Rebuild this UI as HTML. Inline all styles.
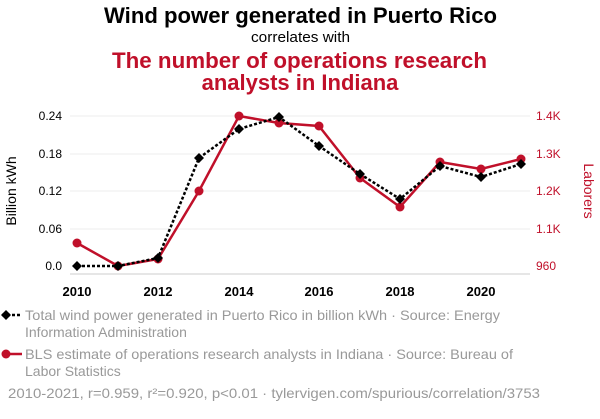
<!DOCTYPE html>
<html><head><meta charset="utf-8"><style>
body{margin:0;background:#fff;width:600px;height:414px;overflow:hidden;font-family:"Liberation Sans",sans-serif}
</style></head><body>
<svg width="600" height="414" xmlns="http://www.w3.org/2000/svg" font-family="Liberation Sans, sans-serif">
<text x="104" y="23" font-size="22" font-weight="bold" fill="#000" textLength="393" lengthAdjust="spacingAndGlyphs">Wind power generated in Puerto Rico</text>
<text x="251" y="42" font-size="15" fill="#000" textLength="99" lengthAdjust="spacingAndGlyphs">correlates with</text>
<text x="112" y="68" font-size="22" font-weight="bold" fill="#c0102a" textLength="375" lengthAdjust="spacingAndGlyphs">The number of operations research</text>
<text x="300" y="90" text-anchor="middle" font-size="22" font-weight="bold" fill="#c0102a">analysts in Indiana</text>
<g stroke="#eee" stroke-width="1">
<line x1="70" x2="530" y1="116" y2="116"/><line x1="70" x2="530" y1="154" y2="154"/><line x1="70" x2="530" y1="191" y2="191"/><line x1="70" x2="530" y1="229" y2="229"/>
</g>
<line x1="70" x2="530" y1="274" y2="274" stroke="#ccc"/>
<g font-size="12" fill="#000" text-anchor="end">
<text x="62" y="120">0.24</text><text x="62" y="158">0.18</text><text x="62" y="195">0.12</text><text x="62" y="233">0.06</text><text x="62" y="270">0.0</text>
</g>
<g font-size="12" fill="#c0102a">
<text x="536" y="120">1.4K</text><text x="536" y="158">1.3K</text><text x="536" y="195">1.2K</text><text x="536" y="233">1.1K</text><text x="536" y="270">960</text>
</g>
<g font-size="13" font-weight="bold" text-anchor="middle">
<text x="77" y="296">2010</text><text x="158" y="296">2012</text><text x="239" y="296">2014</text><text x="319" y="296">2016</text><text x="400" y="296">2018</text><text x="481" y="296">2020</text>
</g>
<text transform="translate(16,191) rotate(-90)" text-anchor="middle" font-size="14">Billion kWh</text>
<text transform="translate(584,191) rotate(90)" text-anchor="middle" font-size="14" fill="#c0102a">Laborers</text>
<polyline fill="none" stroke="#c0102a" stroke-width="2.5" points="77,243 118,266 158,259 199,191 239,116 279,123 319,126 360,178 400,207 440,162 481,169 521,159"/>
<g fill="#c0102a">
<circle cx="77" cy="243" r="4.5"/><circle cx="118" cy="266" r="4.5"/><circle cx="158" cy="259" r="4.5"/><circle cx="199" cy="191" r="4.5"/><circle cx="239" cy="116" r="4.5"/><circle cx="279" cy="123" r="4.5"/><circle cx="319" cy="126" r="4.5"/><circle cx="360" cy="178" r="4.5"/><circle cx="400" cy="207" r="4.5"/><circle cx="440" cy="162" r="4.5"/><circle cx="481" cy="169" r="4.5"/><circle cx="521" cy="159" r="4.5"/>
</g>
<polyline fill="none" stroke="#000" stroke-width="2.5" stroke-dasharray="3,2" points="77,266 118,266 158,258 199,158 239,129 279,117 319,146 360,174 400,199 440,166 481,177 521,164"/>
<g fill="#000">
<path d="M77 261l5 5-5 5-5-5z"/><path d="M118 261l5 5-5 5-5-5z"/><path d="M158 253l5 5-5 5-5-5z"/><path d="M199 153l5 5-5 5-5-5z"/><path d="M239 124l5 5-5 5-5-5z"/><path d="M279 112l5 5-5 5-5-5z"/><path d="M319 141l5 5-5 5-5-5z"/><path d="M360 169l5 5-5 5-5-5z"/><path d="M400 194l5 5-5 5-5-5z"/><path d="M440 161l5 5-5 5-5-5z"/><path d="M481 172l5 5-5 5-5-5z"/><path d="M521 159l5 5-5 5-5-5z"/>
</g>
<line x1="2" x2="22" y1="315" y2="315" stroke="#000" stroke-width="2.5" stroke-dasharray="3,2"/>
<path d="M6 310l5 5-5 5-5-5z" fill="#000"/>
<g font-size="14" fill="#999">
<text x="25" y="320" textLength="475" lengthAdjust="spacingAndGlyphs">Total wind power generated in Puerto Rico in billion kWh · Source: Energy</text>
<text x="25" y="337">Information Administration</text>
<text x="25" y="359" textLength="488" lengthAdjust="spacingAndGlyphs">BLS estimate of operations research analysts in Indiana · Source: Bureau of</text>
<text x="25" y="376">Labor Statistics</text>
<text x="8" y="398" textLength="532" lengthAdjust="spacingAndGlyphs">2010-2021, r=0.959, r²=0.920, p&lt;0.01 · tylervigen.com/spurious/correlation/3753</text>
</g>
<line x1="2" x2="22" y1="354" y2="354" stroke="#c0102a" stroke-width="2.5"/>
<circle cx="6" cy="354" r="4.5" fill="#c0102a"/>
</svg>
</body></html>
